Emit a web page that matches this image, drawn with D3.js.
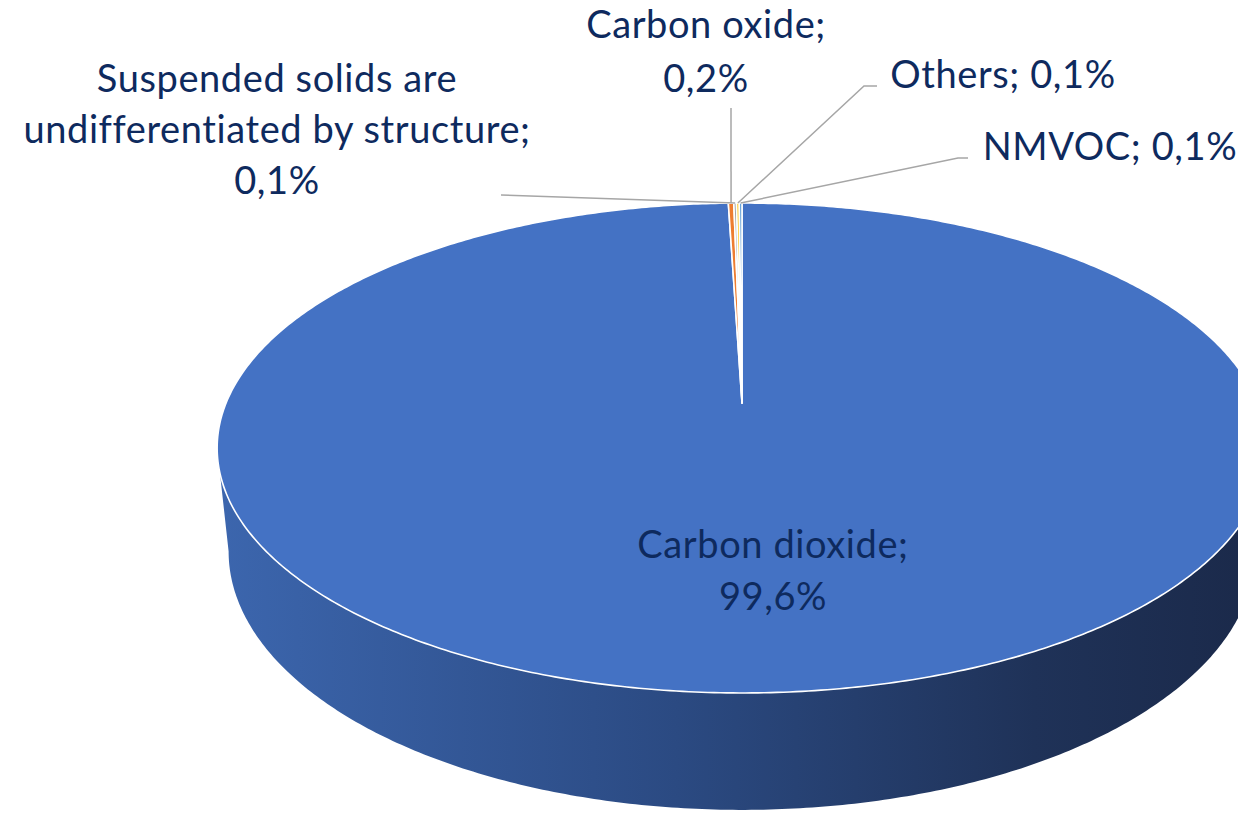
<!DOCTYPE html>
<html>
<head>
<meta charset="utf-8">
<script src="https://cdn.jsdelivr.net/npm/d3@7"></script>
<style>
  body { margin: 0; background: #fff; }
  svg { display: block; }
</style>
</head>
<body>
<div class="vis-pie"></div>
<script>
// data
const categories = ['Carbon dioxide', 'Carbon oxide', 'Suspended solids are undifferentiated by structure', 'Others', 'NMVOC'];
const values = [99.6, 0.2, 0.1, 0.1, 0.1];
const valueLabels = ['99,6%', '0,2%', '0,1%', '0,1%', '0,1%'];
const sliceColors = ['#4472C4', '#ED7D31', '#A5A5A5', '#FFC000', '#5B9BD5'];

const width = 1238;
const height = 815;

const svg = d3.select('.vis-pie').append('svg')
    .attr('width', width)
    .attr('height', height);

// perspective camera for the tilted disc (radius = 1 in world units)
const cx = 742, cy = 403;
const focal = 2496;
const camDist = 4.838;
const tilt = 27.31 * Math.PI / 180;
const sinA = Math.sin(tilt), cosA = Math.cos(tilt);
const thick = 0.2274;

const project = (phi, r, h) => {
    const fwd = r * Math.cos(phi);     // towards the back of the disc
    const side = r * Math.sin(phi);    // to the right
    const depth = camDist + fwd * cosA - h * sinA;
    return [cx + focal * side / depth, cy - focal * (fwd * sinA + h * cosA) / depth];
};

const arcPoints = (a0, a1, r, h) => {
    const n = Math.max(2, Math.ceil(Math.abs(a1 - a0) / 0.01));
    return d3.range(n + 1).map(i => project(a0 + (a1 - a0) * i / n, r, h));
};

const line = d3.line();

const pie = d3.pie().sort(null).value(d => d).startAngle(0).endAngle(2 * Math.PI);
const arcs = pie(values);

// side gradient
const defs = svg.append('defs');
const grad = defs.append('linearGradient')
    .attr('id', 'sideGrad')
    .attr('gradientUnits', 'userSpaceOnUse')
    .attr('x1', 215).attr('y1', 0).attr('x2', 1240).attr('y2', 0);
grad.append('stop').attr('offset', '0%').attr('stop-color', '#3c66ae');
grad.append('stop').attr('offset', '45%').attr('stop-color', '#2b4a82');
grad.append('stop').attr('offset', '80%').attr('stop-color', '#1f3258');
grad.append('stop').attr('offset', '100%').attr('stop-color', '#1b2a4b');

// side wall between silhouette angles of top and bottom rims
const tTan = Math.acos(-cosA / camDist);
const bTan = Math.acos(-cosA / (camDist + thick * sinA));
const sidePts = arcPoints(tTan, 2 * Math.PI - tTan, 1, 0)
    .concat(arcPoints(2 * Math.PI - bTan, bTan, 1, -thick));
svg.append('path')
    .attr('d', line(sidePts) + 'Z')
    .attr('fill', 'url(#sideGrad)');

// top face slices
svg.append('g').selectAll('path')
    .data(arcs)
    .join('path')
    .attr('d', d => line([project(0, 0, 0)].concat(arcPoints(d.startAngle, d.endAngle, 1, 0))) + 'Z')
    .attr('fill', (d, i) => sliceColors[i])
    .attr('stroke', '#fff')
    .attr('stroke-width', 1.6)
    .attr('stroke-linejoin', 'round');

// labels
const textColor = '#0e2a5e';
const font = 'Lato, "Noto Sans", sans-serif';
const fontSize = 38;

// leader line bends and label anchors (screen layout)
const labelLayout = [
    { lines: ['Carbon dioxide;', valueLabels[0]], x: 773, y: 558, gap: 52, leader: null },
    { lines: ['Carbon oxide;', valueLabels[1]], x: 706, y: 38, gap: 54, leader: [[731, 108]] },
    { lines: ['Suspended solids are', 'undifferentiated by structure;', valueLabels[2]], x: 277, y: 92, gap: 51, leader: [[501, 195]] },
    { lines: ['Others; ' + valueLabels[3]], x: 1003, y: 88, gap: 0, leader: [[864, 86], [877, 86]] },
    { lines: ['NMVOC; ' + valueLabels[4]], x: 1110, y: 160, gap: 0, leader: [[958, 158], [968, 158]] }
];

const leaderG = svg.append('g');
arcs.forEach((d, i) => {
    const lay = labelLayout[i];
    if (!lay.leader) return;
    const mid = (d.startAngle + d.endAngle) / 2;
    const start = project(mid, 1, 0);
    leaderG.append('path')
        .attr('d', line([start].concat(lay.leader)))
        .attr('fill', 'none')
        .attr('stroke', '#a6a6a6')
        .attr('stroke-width', 1.5);
});

const labelG = svg.append('g');
labelLayout.forEach((lay, i) => {
    const t = labelG.append('text')
        .attr('x', lay.x)
        .attr('y', lay.y)
        .attr('text-anchor', 'middle')
        .attr('fill', textColor)
        .style('font-family', font)
        .style('font-size', fontSize + 'px')
        .style('letter-spacing', '0.6px');
    lay.lines.forEach((s, j) => {
        t.append('tspan')
            .attr('x', lay.x)
            .attr('dy', j === 0 ? 0 : lay.gap)
            .text(s);
    });
});
</script>
</body>
</html>
